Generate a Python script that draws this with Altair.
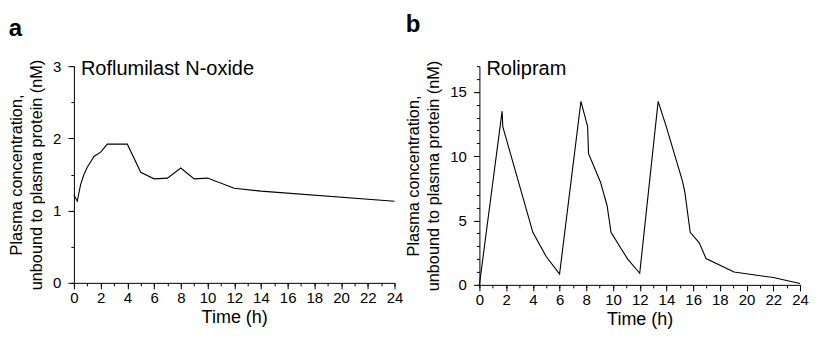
import altair as alt
import pandas as pd

# Panel a: Roflumilast N-oxide
time_a = [0, 0.25, 0.5, 0.75, 1, 1.5, 2, 2.5, 4, 5, 6, 7, 8, 9, 10, 12, 14, 24]
conc_a = [1.22, 1.13, 1.36, 1.50, 1.60, 1.75, 1.81, 1.92, 1.92, 1.53, 1.44, 1.45, 1.59, 1.44, 1.45, 1.31, 1.27, 1.13]

# Panel b: Rolipram
time_b = [0, 1.7, 1.75, 4, 5, 6, 7.6, 8.1, 8.17, 9.06, 9.56, 9.85, 11.1, 12, 13.38, 14, 15.19, 15.38, 15.78, 16.47, 16.96, 19.06, 22, 24]
conc_b = [0, 13.5, 12.3, 4.08, 2.2, 0.83, 14.26, 12.3, 10.2, 8.0, 6.15, 4.08, 2.0, 0.9, 14.26, 12.26, 8.1, 7.2, 4.08, 3.25, 2.05, 1.0, 0.57, 0.1]

x_major = list(range(0, 25, 2))
x_minor = list(range(0, 25, 1))
y_major_a = [0, 1, 2, 3]
y_minor_a = [0, 0.5, 1, 1.5, 2, 2.5, 3]
y_major_b = [0, 5, 10, 15]
y_minor_b = list(range(0, 18))

y_title = ["Plasma concentration,", "unbound to plasma protein (nM)"]
FONT = "Liberation Sans"


def panel(t, v, ymax, ymaj, ymin, name, letter, width, height, title_offset):
    df = pd.DataFrame({"t": t, "v": v})
    xs = alt.Scale(domain=[0, 24], nice=False, zero=False)
    ys = alt.Scale(domain=[0, ymax], nice=False)
    base = alt.Chart(df)
    minor = base.mark_line(opacity=0).encode(
        x=alt.X("t:Q", scale=xs, axis=alt.Axis(orient="bottom", values=x_minor, labels=False,
                                              tickSize=3, domain=False, grid=False, title=None,
                                              tickColor="black", tickWidth=1)),
        y=alt.Y("v:Q", scale=ys, axis=alt.Axis(orient="left", values=ymin, labels=False,
                                              tickSize=3, domain=False, grid=False, title=None,
                                              tickColor="black", tickWidth=1)),
    )
    line = base.mark_line(color="black", strokeWidth=1.1).encode(
        x=alt.X("t:Q", scale=xs, axis=alt.Axis(orient="bottom", values=x_major, tickSize=6,
                                              grid=False, title="Time (h)", labelFontSize=15,
                                              labelPadding=2, titleFontSize=18, titlePadding=3,
                                              titleFontWeight="normal", domainColor="black",
                                              tickColor="black", labelColor="black",
                                              titleColor="black", labelFont=FONT, titleFont=FONT,
                                              labelFlush=False)),
        y=alt.Y("v:Q", scale=ys, axis=alt.Axis(orient="left", values=ymaj, tickSize=6,
                                              grid=False, title=y_title, labelFontSize=15,
                                              labelPadding=7, titleFontSize=16.3, titlePadding=8,
                                              titleFontWeight="normal", titleLineHeight=20,
                                              domainColor="black", tickColor="black",
                                              labelColor="black", titleColor="black",
                                              labelFont=FONT, titleFont=FONT)),
    )
    label = alt.Chart(pd.DataFrame({"name": [name]})).mark_text(
        align="left", baseline="alphabetic", fontSize=20, font=FONT, color="black"
    ).encode(x=alt.value(7), y=alt.value(9), text="name:N")
    return alt.layer(minor, line, label).resolve_axis(x="independent", y="independent").properties(
        width=width, height=height,
        title=alt.TitleParams(letter, anchor="start", fontSize=24, fontWeight="bold",
                              font=FONT, color="black", offset=title_offset, frame="bounds"),
    )


pa = panel(time_a, conc_a, 3, y_major_a, y_minor_a, "Roflumilast N-oxide", "a", 321, 217, 18)
pb = panel(time_b, conc_b, 17, y_major_b, y_minor_b, "Rolipram", "b", 321, 219, 22)

chart = alt.hconcat(pa, pb, spacing=2).configure_view(stroke=None).properties(
    padding={"left": 0, "top": 5, "right": 0, "bottom": 0}
)

chart.save("out.html", embed_options={"renderer": "svg", "actions": False})
